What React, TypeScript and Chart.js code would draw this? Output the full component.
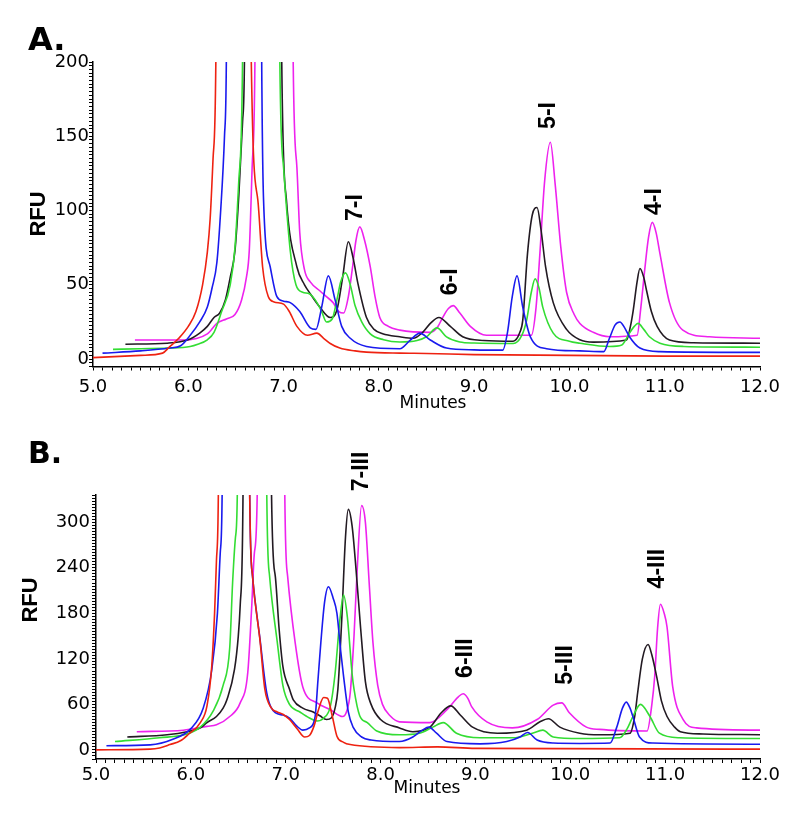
import React, { useEffect, useRef } from 'react';
import { Chart, registerables } from 'chart.js';

Chart.register(...registerables);

type Pt = [number, number];

// ---------- axis tick labels ----------
const X_TICKS = [5, 6, 7, 8, 9, 10, 11, 12];
const A_Y_TICKS = [0, 50, 100, 150, 200];
const B_Y_TICKS = [0, 60, 120, 180, 240, 300];

// ---------- Panel A traces (minutes, RFU) ----------
const redA: Pt[] = [
  [5.0, 1], [5.5, 2.5], [5.73, 4], [5.8, 8], [5.9, 14], [6.0, 22], [6.08, 32], [6.15, 50], [6.2, 72],
  [6.23, 95], [6.26, 135], [6.29, 205], [6.47, 3000], [6.66, 205], [6.73, 107], [6.78, 62], [6.84, 42], [6.9, 38.5],
  [7.0, 37], [7.06, 32], [7.14, 22], [7.25, 16], [7.35, 17.5], [7.42, 14], [7.49, 10.5], [7.59, 7.4],
  [7.75, 5.5], [7.87, 4.7], [8.22, 4], [8.5, 3.8], [9.0, 3], [10.0, 2.5], [11.0, 2], [12.0, 2],
];
const blueA: Pt[] = [
  [5.1, 4], [5.5, 5.5], [5.8, 7.4], [5.92, 9], [6.02, 16], [6.12, 25], [6.2, 35], [6.25, 48], [6.3, 65],
  [6.34, 100], [6.38, 150], [6.4, 205], [6.58, 3000], [6.77, 205], [6.79, 107], [6.86, 62], [6.93, 42],
  [7.0, 39], [7.07, 38], [7.17, 32], [7.28, 21], [7.34, 20], [7.4, 35], [7.47, 56], [7.54, 40], [7.61, 22],
  [7.7, 14], [7.87, 8.5], [8.22, 7], [8.33, 12.8], [8.43, 17.5], [8.54, 12.8], [8.71, 7.4], [9.0, 6.2],
  [9.3, 6], [9.35, 18], [9.4, 42], [9.45, 56], [9.51, 35], [9.59, 15], [9.76, 7], [10.11, 5.5], [10.36, 5],
  [10.42, 14], [10.48, 23], [10.53, 25], [10.58, 21], [10.63, 15], [10.74, 7.4], [10.95, 5], [12.0, 4.5],
];
const greenA: Pt[] = [
  [5.21, 6.5], [5.5, 7], [5.78, 7.4], [6.02, 8.5], [6.1, 10], [6.2, 13], [6.27, 18], [6.35, 32], [6.44, 50],
  [6.49, 75], [6.53, 120], [6.57, 205], [6.77, 3000], [6.96, 205], [7.0, 129], [7.07, 73], [7.13, 50],
  [7.2, 45], [7.27, 44], [7.33, 40], [7.4, 32], [7.45, 25], [7.51, 27], [7.56, 40], [7.6, 52], [7.65, 58],
  [7.7, 50], [7.75, 36], [7.82, 25], [7.91, 17], [8.05, 13], [8.22, 11.5], [8.4, 12.5], [8.5, 15], [8.61, 21],
  [8.71, 15], [8.85, 11.5], [9.0, 10.8], [9.41, 10.5], [9.5, 16], [9.55, 26], [9.6, 45], [9.64, 54],
  [9.68, 48], [9.72, 35], [9.83, 17.5], [10.0, 12], [10.11, 10.7], [10.42, 8.5], [10.55, 9.5], [10.63, 17.5],
  [10.68, 22], [10.72, 24], [10.78, 20], [10.84, 15], [10.95, 10.7], [11.2, 8.5], [12.0, 8],
];
const blackA: Pt[] = [
  [5.34, 10], [5.78, 10.7], [6.0, 13], [6.12, 17.5], [6.2, 22], [6.27, 28], [6.33, 31], [6.39, 40],
  [6.44, 55], [6.49, 73], [6.53, 110], [6.57, 160], [6.59, 205], [6.78, 3000], [6.98, 205], [7.03, 107],
  [7.14, 62], [7.22, 50], [7.28, 44], [7.38, 35], [7.49, 28], [7.56, 33], [7.62, 55], [7.68, 79], [7.73, 68],
  [7.78, 51], [7.87, 28], [7.95, 20], [8.04, 17], [8.22, 15], [8.36, 14], [8.46, 18], [8.54, 24], [8.63, 28],
  [8.75, 22], [8.88, 15], [9.1, 12.5], [9.41, 12], [9.48, 18], [9.51, 26], [9.56, 71], [9.61, 97],
  [9.66, 102], [9.7, 88], [9.75, 62], [9.83, 38], [9.97, 20], [10.11, 13], [10.25, 11.4], [10.6, 12.8],
  [10.64, 22], [10.67, 33], [10.71, 52], [10.74, 61], [10.78, 55], [10.81, 46], [10.86, 32], [10.92, 22],
  [11.05, 12.8], [11.3, 11], [12.0, 10.7],
];
const magentaA: Pt[] = [
  [5.44, 12.8], [5.94, 12.8], [6.2, 17], [6.3, 24], [6.4, 27], [6.49, 30], [6.56, 40], [6.61, 55],
  [6.64, 73], [6.67, 129], [6.7, 205], [6.9, 3000], [7.1, 205], [7.14, 129], [7.17, 85], [7.22, 60],
  [7.28, 52], [7.38, 46], [7.45, 42], [7.52, 38], [7.58, 32], [7.63, 31], [7.68, 42], [7.72, 60], [7.76, 80],
  [7.8, 89], [7.85, 80], [7.91, 62], [7.96, 42], [8.01, 28], [8.1, 22], [8.22, 19.5], [8.54, 18], [8.62, 22],
  [8.67, 28], [8.73, 34], [8.78, 36], [8.85, 31], [8.96, 22], [9.13, 16], [9.6, 16], [9.65, 35], [9.69, 71],
  [9.74, 120], [9.8, 146], [9.85, 118], [9.91, 75], [9.97, 45], [10.05, 30], [10.11, 24], [10.25, 18],
  [10.42, 15], [10.71, 16], [10.75, 35], [10.79, 60], [10.83, 82], [10.87, 92], [10.91, 85], [10.95, 71],
  [11.05, 38], [11.19, 19.5], [11.47, 15], [12.0, 14],
];

// ---------- Panel B traces ----------
const redB: Pt[] = [
  [5.0, 0], [5.57, 1], [5.67, 2.6], [5.78, 7], [5.89, 12], [5.97, 20], [6.1, 36], [6.17, 58], [6.22, 110],
  [6.25, 180], [6.27, 250], [6.29, 340], [6.46, 5000], [6.62, 340], [6.65, 229], [6.73, 143], [6.78, 80],
  [6.85, 55], [6.91, 50], [6.97, 47], [7.04, 40], [7.12, 28], [7.2, 17], [7.25, 19], [7.3, 32], [7.35, 55],
  [7.4, 69], [7.44, 68], [7.49, 45], [7.54, 18], [7.61, 10], [7.68, 7], [8.2, 3], [8.6, 4], [9.0, 2], [12.0, 1],
];
const blueB: Pt[] = [
  [5.11, 5.5], [5.57, 6.6], [5.81, 14], [6.0, 28], [6.13, 55], [6.22, 105], [6.28, 180], [6.31, 260],
  [6.33, 340], [6.48, 5000], [6.62, 340], [6.65, 229], [6.73, 145], [6.8, 75], [6.89, 49], [6.97, 46],
  [7.04, 42], [7.12, 31], [7.18, 26], [7.25, 29], [7.31, 44], [7.34, 92], [7.37, 141], [7.41, 195],
  [7.45, 215], [7.5, 200], [7.54, 180], [7.58, 130], [7.61, 97], [7.66, 50], [7.71, 30], [7.8, 17],
  [7.9, 13], [8.2, 11], [8.34, 17], [8.44, 26], [8.51, 30], [8.59, 22], [8.7, 11], [9.05, 8], [9.33, 11],
  [9.47, 17], [9.55, 23], [9.65, 13], [9.82, 9], [10.1, 8.5], [10.42, 9], [10.49, 30], [10.55, 55],
  [10.59, 63], [10.63, 55], [10.66, 44], [10.73, 17], [10.87, 9], [12.0, 7.5],
];
const greenB: Pt[] = [
  [5.2, 11], [5.67, 16], [5.96, 21], [6.1, 30], [6.23, 50], [6.34, 85], [6.41, 135], [6.44, 220],
  [6.47, 280], [6.49, 340], [6.65, 5000], [6.8, 340], [6.83, 229], [6.91, 143], [6.97, 85], [7.04, 60],
  [7.15, 50], [7.25, 42], [7.33, 38], [7.4, 42], [7.47, 57], [7.52, 100], [7.57, 170], [7.61, 204],
  [7.65, 175], [7.7, 100], [7.72, 80], [7.78, 45], [7.86, 36], [7.96, 25], [8.2, 20], [8.41, 22], [8.55, 30],
  [8.66, 36], [8.8, 22], [9.05, 16], [9.4, 16], [9.6, 22], [9.71, 26], [9.82, 17], [10.1, 15], [10.52, 16],
  [10.6, 28], [10.66, 44], [10.74, 60], [10.84, 44], [10.94, 22], [11.15, 16], [12.0, 15],
];
const blackB: Pt[] = [
  [5.33, 17], [5.75, 20], [5.96, 24], [6.1, 29], [6.17, 36], [6.27, 44], [6.34, 55], [6.38, 66],
  [6.46, 106], [6.5, 150], [6.52, 190], [6.55, 340], [6.7, 5000], [6.85, 340], [6.89, 229], [6.93, 160],
  [6.97, 110], [7.04, 80], [7.08, 66], [7.18, 55], [7.29, 50], [7.36, 45], [7.43, 40], [7.48, 42],
  [7.52, 55], [7.55, 80], [7.59, 170], [7.63, 280], [7.66, 317], [7.7, 295], [7.74, 240], [7.79, 160],
  [7.84, 90], [7.9, 60], [8.0, 40], [8.2, 29], [8.34, 24], [8.52, 30], [8.64, 49], [8.74, 58], [8.84, 46],
  [8.97, 30], [9.23, 22], [9.54, 26], [9.68, 37], [9.77, 41], [9.89, 30], [10.1, 22], [10.31, 20],
  [10.63, 22], [10.68, 45], [10.71, 75], [10.76, 120], [10.82, 139], [10.86, 125], [10.91, 97],
  [10.96, 65], [11.02, 44], [11.1, 30], [11.16, 24], [11.4, 21], [12.0, 20],
];
const magentaB: Pt[] = [
  [5.43, 24], [5.92, 26], [6.17, 31], [6.27, 33], [6.41, 44], [6.52, 62], [6.6, 102], [6.64, 185],
  [6.67, 260], [6.7, 340], [6.85, 5000], [6.99, 340], [7.02, 229], [7.1, 141], [7.18, 83], [7.33, 62],
  [7.47, 53], [7.6, 44], [7.64, 50], [7.68, 75], [7.72, 150], [7.75, 229], [7.8, 322], [7.84, 300],
  [7.88, 220], [7.92, 141], [7.97, 85], [8.02, 60], [8.1, 45], [8.2, 37], [8.52, 36], [8.7, 53], [8.82, 70],
  [8.87, 74], [8.92, 68], [8.96, 57], [9.12, 37], [9.39, 29], [9.65, 40], [9.82, 59], [9.91, 62],
  [9.99, 49], [10.17, 30], [10.31, 27], [10.81, 25], [10.86, 60], [10.89, 97], [10.92, 160], [10.95, 192],
  [10.99, 180], [11.02, 162], [11.08, 83], [11.19, 40], [11.33, 29], [12.0, 26],
];

// ---------- peak annotations ----------
const A_LABELS = ['7-I', '6-I', '5-I', '4-I'];
const A_LABEL_X = [7.76, 8.75, 9.785, 10.89];
const A_LABEL_Y = [102, 52, 164, 106];
const B_LABELS = ['7-III', '6-III', '5-III', '4-III'];
const B_LABEL_X = [7.8, 8.9, 9.95, 10.92];
const B_LABEL_Y = [367, 121, 112, 239];

const COLORS = ['#ee2211', '#1a1aee', '#33dd33', '#221a22', '#ee22ee'];

interface PanelCfg {
  height: number;
  top: number;
  series: Pt[][];
  yMin: number;
  yMax: number;
  yStep: number;
  yTicks: number[];
  yWidth: number;
  yPad: number;
  xPad: number;
  padding: { top: number; right: number; bottom: number; left: number };
  letter: string;
  letterSize: number;
  letterPos: [number, number];
  rfuPos: [number, number];
  minutesPos: [number, number];
  labels: string[];
  labelX: number[];
  labelY: number[];
}

const PANELS: PanelCfg[] = [
  {
    height: 420, top: 0, series: [redA, blueA, greenA, blackA, magentaA],
    yMin: -5, yMax: 200, yStep: 2.5, yTicks: A_Y_TICKS, yWidth: 93, yPad: 0, xPad: 6,
    padding: { top: 62, right: 40, bottom: 23.5, left: 0 },
    letter: 'A.', letterSize: 32, letterPos: [28, 50], rfuPos: [39, 214], minutesPos: [433, 404],
    labels: A_LABELS, labelX: A_LABEL_X, labelY: A_LABEL_Y,
  },
  {
    height: 401, top: 420, series: [redB, blueB, greenB, blackB, magentaB],
    yMin: -12, yMax: 336, yStep: 4, yTicks: B_Y_TICKS, yWidth: 96, yPad: 2, xPad: 2,
    padding: { top: 75, right: 40, bottom: 32, left: 0 },
    letter: 'B.', letterSize: 30, letterPos: [28, 43], rfuPos: [31, 180], minutesPos: [427, 369],
    labels: B_LABELS, labelX: B_LABEL_X, labelY: B_LABEL_Y,
  },
];

function Panel({ cfg }: { cfg: PanelCfg }) {
  const ref = useRef<HTMLCanvasElement | null>(null);

  useEffect(() => {
    if (!ref.current) return;
    const textPlugin = {
      id: 'panelText',
      afterDraw(chart: any) {
        const ctx = chart.ctx as CanvasRenderingContext2D;
        const xs = chart.scales.x;
        const ys = chart.scales.y;
        ctx.save();
        ctx.fillStyle = '#000';
        ctx.font = `bold ${cfg.letterSize}px "DejaVu Sans"`;
        ctx.textAlign = 'left';
        ctx.textBaseline = 'alphabetic';
        ctx.fillText(cfg.letter, cfg.letterPos[0], cfg.letterPos[1]);
        ctx.font = '17px "DejaVu Sans"';
        ctx.textAlign = 'center';
        ctx.textBaseline = 'middle';
        ctx.fillText('Minutes', cfg.minutesPos[0], cfg.minutesPos[1]);
        ctx.save();
        ctx.translate(cfg.rfuPos[0], cfg.rfuPos[1]);
        ctx.rotate(-Math.PI / 2);
        ctx.font = 'bold 22px "Liberation Sans"';
        ctx.fillText('RFU', 0, 0);
        ctx.restore();
        ctx.font = 'bold 23px "Liberation Sans"';
        cfg.labels.forEach((t, i) => {
          const px = xs.getPixelForValue(cfg.labelX[i]);
          const py = ys.getPixelForValue(cfg.labelY[i]);
          ctx.save();
          ctx.translate(px, py);
          ctx.rotate(-Math.PI / 2);
          ctx.fillText(t, 0, 0);
          ctx.restore();
        });
        ctx.restore();
      },
    };

    const chart = new Chart(ref.current, {
      type: 'line',
      data: {
        datasets: cfg.series.map((s, i) => ({
          data: s.map(([x, y]) => ({ x, y })),
          borderColor: COLORS[i],
          backgroundColor: COLORS[i],
          borderWidth: 1.6,
          pointRadius: 0,
          fill: false,
          cubicInterpolationMode: 'monotone' as const,
          clip: 0,
        })),
      },
      options: {
        animation: false,
        responsive: false,
        maintainAspectRatio: false,
        events: [],
        layout: { padding: cfg.padding },
        plugins: { legend: { display: false }, tooltip: { enabled: false }, title: { display: false } },
        scales: {
          x: {
            type: 'linear',
            min: 5,
            max: 12,
            afterFit: (s: any) => { s.height = 30; },
            ticks: {
              stepSize: 0.1,
              autoSkip: false,
              maxRotation: 0,
              minRotation: 0,
              padding: cfg.xPad,
              color: '#000',
              font: { family: 'DejaVu Sans', size: 18 },
              callback: (v: any) => {
                const n = Number(v);
                const r = Math.round(n);
                return Math.abs(n - r) < 1e-6 && X_TICKS.includes(r) ? r.toFixed(1) : '';
              },
            },
            grid: { drawOnChartArea: false, drawTicks: true, tickLength: 4, color: '#000' },
            border: { display: true, color: '#000', width: 1.5 },
          },
          y: {
            type: 'linear',
            min: cfg.yMin,
            max: cfg.yMax,
            afterFit: (s: any) => { s.width = cfg.yWidth; },
            ticks: {
              stepSize: cfg.yStep,
              autoSkip: false,
              padding: cfg.yPad,
              color: '#000',
              font: { family: 'DejaVu Sans', size: 18 },
              callback: (v: any) => {
                const n = Number(v);
                return cfg.yTicks.some((t) => Math.abs(t - n) < 1e-6) ? String(Math.round(n)) : '';
              },
            },
            grid: { drawOnChartArea: false, drawTicks: true, tickLength: 4, color: '#000' },
            border: { display: true, color: '#000', width: 1.5 },
          },
        },
      },
      plugins: [textPlugin],
    } as any);
    return () => chart.destroy();
  }, [cfg]);

  return (
    <canvas
      ref={ref}
      width={800}
      height={cfg.height}
      style={{ position: 'absolute', left: 0, top: cfg.top, width: 800, height: cfg.height }}
    />
  );
}

export default function App() {
  return (
    <div style={{ position: 'absolute', left: 0, top: 0, width: 800, height: 821, background: '#fff' }}>
      {PANELS.map((p, i) => (
        <Panel key={i} cfg={p} />
      ))}
    </div>
  );
}
